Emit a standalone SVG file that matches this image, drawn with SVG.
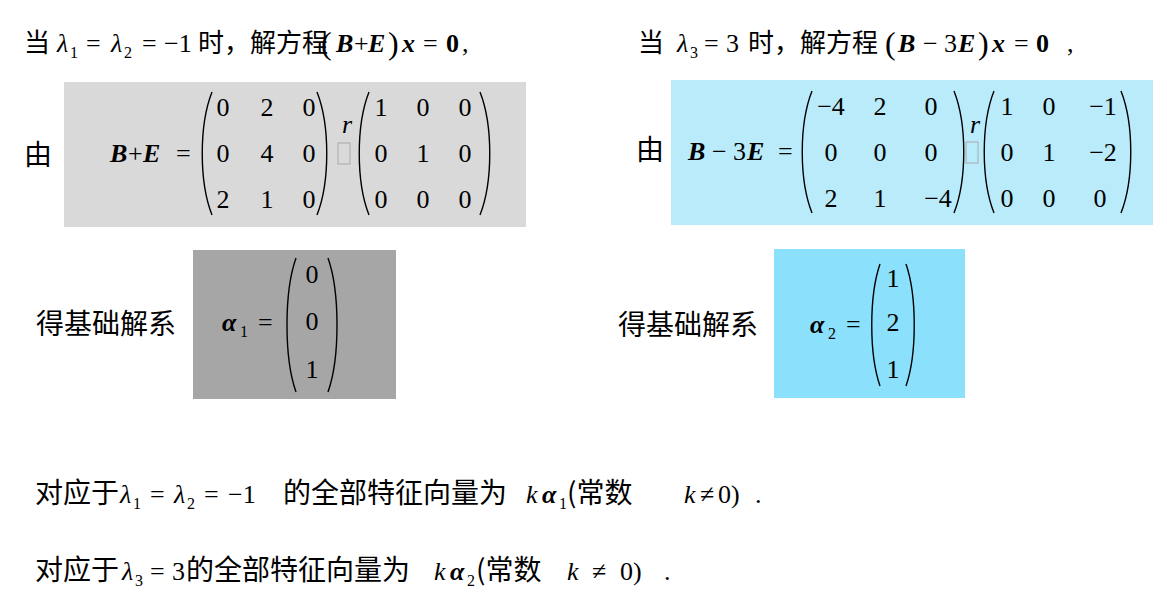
<svg xmlns="http://www.w3.org/2000/svg" width="1167" height="616" viewBox="0 0 1167 616">
<style>
.c{font-family:"Noto Sans CJK SC","Noto Sans",sans-serif;font-size:26px;fill:#000}
.L{font-size:28px}
.m{font-family:"Liberation Serif","Times New Roman","DejaVu Serif",serif;font-size:26px;fill:#000}
.i{font-style:italic}
.b{font-weight:bold;font-style:italic}
.n{text-anchor:middle}
.s{font-size:16px}
.p{fill:none;stroke:#000;stroke-width:1.4}
</style>
<rect width="1167" height="616" fill="#fff"/>
<g id="line1">
<text x="24" y="52" class="c">当</text>
<text y="52" class="m"><tspan x="57" class="i">λ</tspan><tspan x="70" y="58" class="s">1</tspan><tspan x="86" y="52">=</tspan><tspan x="111" class="i">λ</tspan><tspan x="124" y="58" class="s">2</tspan><tspan x="142" y="52">=</tspan><tspan x="164">−1</tspan></text>
<text x="198" y="52" class="c" font-size="24">时，解方程</text>
<text y="52" class="m"><tspan x="321" font-size="32" y="54">(</tspan><tspan x="336" y="52" class="b">B</tspan><tspan x="354">+</tspan><tspan x="368" class="b">E</tspan><tspan x="388" font-size="32" y="54">)</tspan><tspan x="402" y="52" class="b">x</tspan><tspan x="423">=</tspan><tspan x="446" font-weight="bold">0</tspan><tspan x="462">,</tspan></text>
</g>
<g id="line1r">
<text x="638" y="52" class="c">当</text>
<text y="52" class="m"><tspan x="677" class="i">λ</tspan><tspan x="690" y="58" class="s">3</tspan><tspan x="704" y="52">=</tspan><tspan x="726">3</tspan></text>
<text x="748" y="52" class="c" font-size="24">时，解方程</text>
<text y="52" class="m"><tspan x="885" font-size="32" y="54">(</tspan><tspan x="898" y="52" class="b">B</tspan><tspan x="923">−</tspan><tspan x="944">3</tspan><tspan x="958" class="b">E</tspan><tspan x="978" font-size="32" y="54">)</tspan><tspan x="992" y="52" class="b">x</tspan><tspan x="1014">=</tspan><tspan x="1036" font-weight="bold">0</tspan><tspan x="1067">,</tspan></text>
</g>
<g id="matrixL">
<rect x="64" y="82" width="462" height="145" fill="#d9d9d9"/>
<text x="24" y="165" class="c L">由</text>
<text y="162" class="m"><tspan x="110" class="b">B</tspan><tspan x="128">+</tspan><tspan x="143" class="b">E</tspan><tspan x="176">=</tspan></text>
<path class="p" d="M212,92 C199,125 199,182 212,215 M317,92 C330,125 330,182 317,215"/>
<g class="m n"><text x="223" y="116">0</text><text x="267" y="116">2</text><text x="309" y="116">0</text>
<text x="223" y="162">0</text><text x="267" y="162">4</text><text x="309" y="162">0</text>
<text x="223" y="208">2</text><text x="267" y="208">1</text><text x="309" y="208">0</text></g>
<text x="342" y="133" class="m i" font-size="14">r</text>
<rect x="338" y="143" width="12" height="21" fill="none" stroke="#aaa" stroke-width="1"/>
<path class="p" d="M369,92 C356,125 356,182 369,215 M480,92 C493,125 493,182 480,215"/>
<g class="m n"><text x="381" y="116">1</text><text x="423" y="116">0</text><text x="465" y="116">0</text>
<text x="381" y="162">0</text><text x="423" y="162">1</text><text x="465" y="162">0</text>
<text x="381" y="208">0</text><text x="423" y="208">0</text><text x="465" y="208">0</text></g>
</g>
<g id="matrixR">
<rect x="671" y="80" width="482" height="145" fill="#b9ebfb"/>
<text x="636" y="160" class="c L">由</text>
<text y="160" class="m"><tspan x="688" class="b">B</tspan><tspan x="712">−</tspan><tspan x="733">3</tspan><tspan x="747" class="b">E</tspan><tspan x="778">=</tspan></text>
<path class="p" d="M812,91 C799,124 799,180 812,213 M954,91 C967,124 967,180 954,213"/>
<g class="m n"><text x="831" y="115">−4</text><text x="880" y="115">2</text><text x="931" y="115">0</text>
<text x="831" y="161">0</text><text x="880" y="161">0</text><text x="931" y="161">0</text>
<text x="831" y="207">2</text><text x="880" y="207">1</text><text x="938" y="207">−4</text></g>
<text x="970" y="133" class="m i" font-size="14">r</text>
<rect x="966" y="142" width="12" height="21" fill="none" stroke="#aaa" stroke-width="1"/>
<path class="p" d="M994,91 C981,124 981,180 994,213 M1121,91 C1134,124 1134,180 1121,213"/>
<g class="m n"><text x="1007" y="115">1</text><text x="1049" y="115">0</text><text x="1103" y="115">−1</text>
<text x="1007" y="161">0</text><text x="1049" y="161">1</text><text x="1103" y="161">−2</text>
<text x="1007" y="207">0</text><text x="1049" y="207">0</text><text x="1100" y="207">0</text></g>
</g>
<g id="alpha1">
<text x="36" y="334" class="c L">得基础解系</text>
<rect x="193" y="250" width="203" height="149" fill="#a6a6a6"/>
<text y="331" class="m"><tspan x="222" class="b">α</tspan><tspan x="240" y="337" class="s">1</tspan><tspan x="258" y="331">=</tspan></text>
<path class="p" d="M296,258 C284,292 284,358 296,392 M328,258 C340,292 340,358 328,392"/>
<g class="m n"><text x="312" y="283">0</text><text x="312" y="330">0</text><text x="312" y="378">1</text></g>
</g>
<g id="alpha2">
<text x="618" y="335" class="c L">得基础解系</text>
<rect x="774" y="249" width="191" height="149" fill="#8be0fb"/>
<text y="333" class="m"><tspan x="810" class="b">α</tspan><tspan x="828" y="339" class="s">2</tspan><tspan x="846" y="333">=</tspan></text>
<path class="p" d="M880,264 C869,296 869,354 880,386 M906,264 C917,296 917,354 906,386"/>
<g class="m n"><text x="893" y="287">1</text><text x="893" y="331">2</text><text x="893" y="378">1</text></g>
</g>
<g id="result1">
<text x="35" y="503" class="c L">对应于</text>
<text y="503" class="m"><tspan x="120" class="i">λ</tspan><tspan x="133" y="509" class="s">1</tspan><tspan x="150" y="503">=</tspan><tspan x="174" class="i">λ</tspan><tspan x="187" y="509" class="s">2</tspan><tspan x="204" y="503">=</tspan><tspan x="228">−1</tspan></text>
<text x="283" y="503" class="c L">的全部特征向量为</text>
<text y="503" class="m"><tspan x="526" class="i">k</tspan><tspan x="542" class="b">α</tspan><tspan x="559" y="509" class="s">1</tspan></text>
<text x="567" y="503" class="c L">(常数</text>
<text y="503" class="m"><tspan x="684" class="i">k</tspan><tspan x="700">≠</tspan><tspan x="718">0)</tspan><tspan x="755">.</tspan></text>
</g>
<g id="result2">
<text x="35" y="580" class="c L">对应于</text>
<text y="580" class="m"><tspan x="122" class="i">λ</tspan><tspan x="135" y="586" class="s">3</tspan><tspan x="150" y="580">=</tspan><tspan x="172">3</tspan></text>
<text x="186" y="580" class="c L">的全部特征向量为</text>
<text y="580" class="m"><tspan x="434" class="i">k</tspan><tspan x="450" class="b">α</tspan><tspan x="467" y="586" class="s">2</tspan></text>
<text x="476" y="580" class="c L">(常数</text>
<text y="580" class="m"><tspan x="567" class="i">k</tspan><tspan x="592">≠</tspan><tspan x="620">0)</tspan><tspan x="664">.</tspan></text>
</g>
</svg>
